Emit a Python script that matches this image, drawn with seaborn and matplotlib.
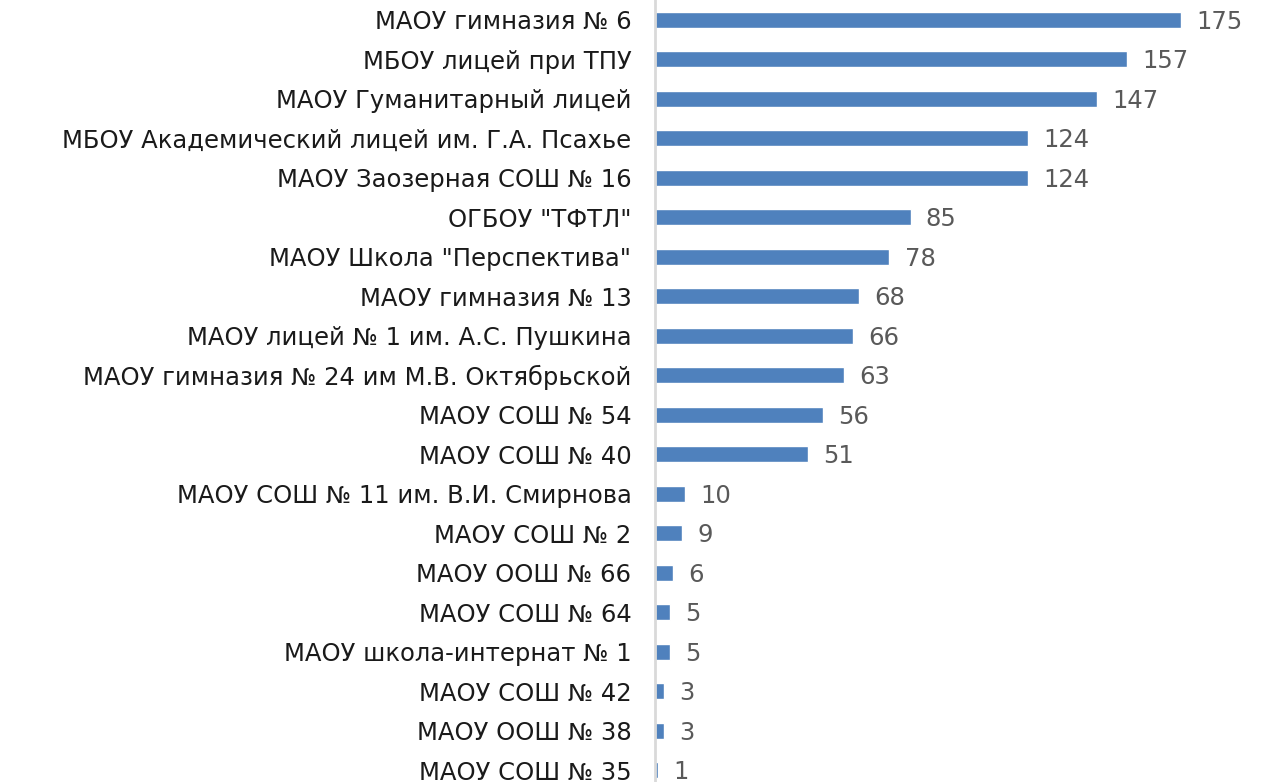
import numpy as np
import pandas as pd
import seaborn as sns
import matplotlib.pyplot as plt

# --- data ---
schools = [
    'МАОУ гимназия № 6',
    'МБОУ лицей при ТПУ',
    'МАОУ Гуманитарный лицей',
    'МБОУ Академический лицей им. Г.А. Псахье',
    'МАОУ Заозерная СОШ № 16',
    'ОГБОУ "ТФТЛ"',
    'МАОУ Школа "Перспектива"',
    'МАОУ гимназия № 13',
    'МАОУ лицей № 1 им. А.С. Пушкина',
    'МАОУ гимназия № 24 им М.В. Октябрьской',
    'МАОУ СОШ № 54',
    'МАОУ СОШ № 40',
    'МАОУ СОШ № 11 им. В.И. Смирнова',
    'МАОУ СОШ № 2',
    'МАОУ ООШ № 66',
    'МАОУ СОШ № 64',
    'МАОУ школа-интернат № 1',
    'МАОУ СОШ № 42',
    'МАОУ ООШ № 38',
    'МАОУ СОШ № 35',
]
counts = [175, 157, 147, 124, 124, 85, 78, 68, 66, 63, 56, 51, 10, 9, 6, 5, 5, 3, 3, 1]

df = pd.DataFrame({'school': schools, 'count': counts})

sns.set_style('white')
plt.rcParams['font.family'] = ['DejaVu Sans']

fig = plt.figure(figsize=(12.61, 7.82), dpi=100)
ax = fig.add_axes([655 / 1261, 0, 1 - 655 / 1261, 1])

sns.barplot(data=df, x='count', y='school', orient='h', color='#4F81BD',
            saturation=1, width=0.41, ax=ax)

ax.set_xlim(0, 201.6)
ax.set_ylim(19.3, -0.5)
ax.set_xlabel('')
ax.set_ylabel('')
ax.set_xticks([])
ax.tick_params(axis='y', length=0, pad=17, labelsize=17.5, labelcolor='#1a1a1a')

for s in ['top', 'right', 'bottom']:
    ax.spines[s].set_visible(False)
ax.spines['left'].set_color('#d9d9d9')
ax.spines['left'].set_linewidth(2)

for i, v in enumerate(counts):
    ax.annotate(str(v), (v, i), xytext=(11, -1.5), textcoords='offset points',
                va='center', ha='left', fontsize=17.5, color='#595959')

fig.savefig('out.png', dpi=100)
